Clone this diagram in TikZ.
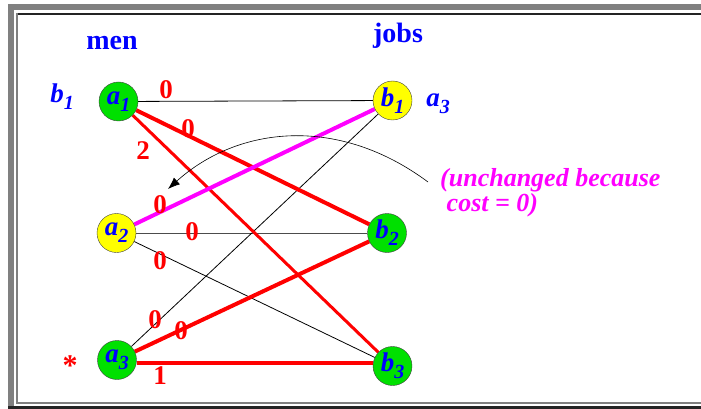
\documentclass[tikz,border=0pt]{standalone}
\usepackage{fontspec}
\setmainfont{Liberation Serif}
\usetikzlibrary{arrows.meta,backgrounds}

\definecolor{mangreen}{RGB}{0,224,0}
\definecolor{jobyellow}{RGB}{255,255,0}
\definecolor{lblblue}{RGB}{0,0,255}
\definecolor{costred}{RGB}{255,0,0}
\definecolor{notemagenta}{RGB}{255,0,255}
\definecolor{framegray}{RGB}{128,128,128}
\definecolor{framedark}{RGB}{36,36,36}

\newcommand{\sublbl}[2]{#1\raisebox{-0.25em}{\fontsize{20}{20}\selectfont #2}}

\tikzset{
  vertex/.style={draw=black!75,circle,minimum size=39pt,inner sep=0pt,
    text=lblblue,font=\fontsize{27}{27}\selectfont\bfseries\itshape},
  man/.style={vertex,fill=mangreen},
  freejob/.style={vertex,fill=jobyellow},
  heading/.style={text=lblblue,anchor=base,font=\fontsize{28}{28}\selectfont\bfseries},
  potential/.style={text=lblblue,anchor=base,inner sep=0pt,
    font=\fontsize{27}{27}\selectfont\bfseries\itshape},
  cost/.style={text=costred,inner sep=0pt,font=\fontsize{27}{27}\selectfont\bfseries},
  plain/.style={draw=black,line width=0.8pt},
  tight/.style={draw=costred,line width=4pt},
  matched/.style={draw=notemagenta,line width=4pt}
}

\begin{document}
\begin{tikzpicture}[x=1pt,y=-1pt]
\useasboundingbox (0,0) rectangle (701,409);

\node[man] (a1) at (118.5,101.5) {\sublbl{a}{1}};
\node[freejob] (a2) at (116.5,233) {\sublbl{a}{2}};
\node[man] (a3) at (117,360) {\sublbl{a}{3}};

\node[freejob] (b1) at (392.5,100.5) {\sublbl{b}{1}};
\node[man] (b2) at (387,233) {\sublbl{b}{2}};
\node[man] (b3) at (392.5,366) {\sublbl{b}{3}};

\node[heading] (men) at (112,50) {men};
\node[heading] (jobs) at (398,43) {jobs};

\node[potential] (pb1) at (62,103) {\sublbl{b}{1}};
\node[potential] (pa3) at (438,107) {\sublbl{a}{3}};
\node[text=costred,font=\fontsize{30}{30}\selectfont\bfseries] (star) at (70,366) {*};

\node[anchor=north west,inner sep=0pt,align=left,text=notemagenta,
  font=\fontsize{26}{25}\selectfont\bfseries\itshape] (note) at (440,168)
  {(unchanged because\\ \ cost = 0)};

% costs
\node[cost] (c11) at (166,90) {0};
\node[cost] (c12) at (188,129) {0};
\node[cost] (c13) at (143,151) {2};
\node[cost] (c21) at (160,205) {0};
\node[cost] (c22) at (192,232) {0};
\node[cost] (c23) at (160,261) {0};
\node[cost] (c31) at (155,320) {0};
\node[cost] (c32) at (181,331) {0};
\node[cost] (c33) at (160,376) {1};

\coordinate (arcstart) at (428,182);
\coordinate (arctip) at (168,189);

\begin{scope}[on background layer]
% window frame
\fill[framegray] (8,4) rectangle (701,10);
\fill[framegray] (8,4) rectangle (14,406);
\fill[framedark] (8,406) rectangle (701,409);
\fill[framedark] (16,13) rectangle (701,15);
\fill[framegray] (16,13) rectangle (18,404);
\fill[framegray] (16,402) rectangle (701,404);

\draw[plain] (a1) -- (b1);
\draw[plain,draw=black!70] (a2) -- (b2);
\draw[plain] (a2) -- (b3);
\draw[plain] (a3) -- (b1);
\draw[tight] (a1) -- (b2);
\draw[tight,line width=3pt] (a1) -- (b3);
\draw[tight] (a3) -- (b2);
\draw[tight] ([yshift=-3pt]a3.east) -- ([yshift=3pt]b3.west);
\draw[matched] (a2) -- (b1);
\end{scope}

\draw[line width=0.6pt,-{Latex[length=12pt,width=9pt]}] (arcstart) .. controls (338,115) and (238,126) .. (arctip);

\end{tikzpicture}
\end{document}
